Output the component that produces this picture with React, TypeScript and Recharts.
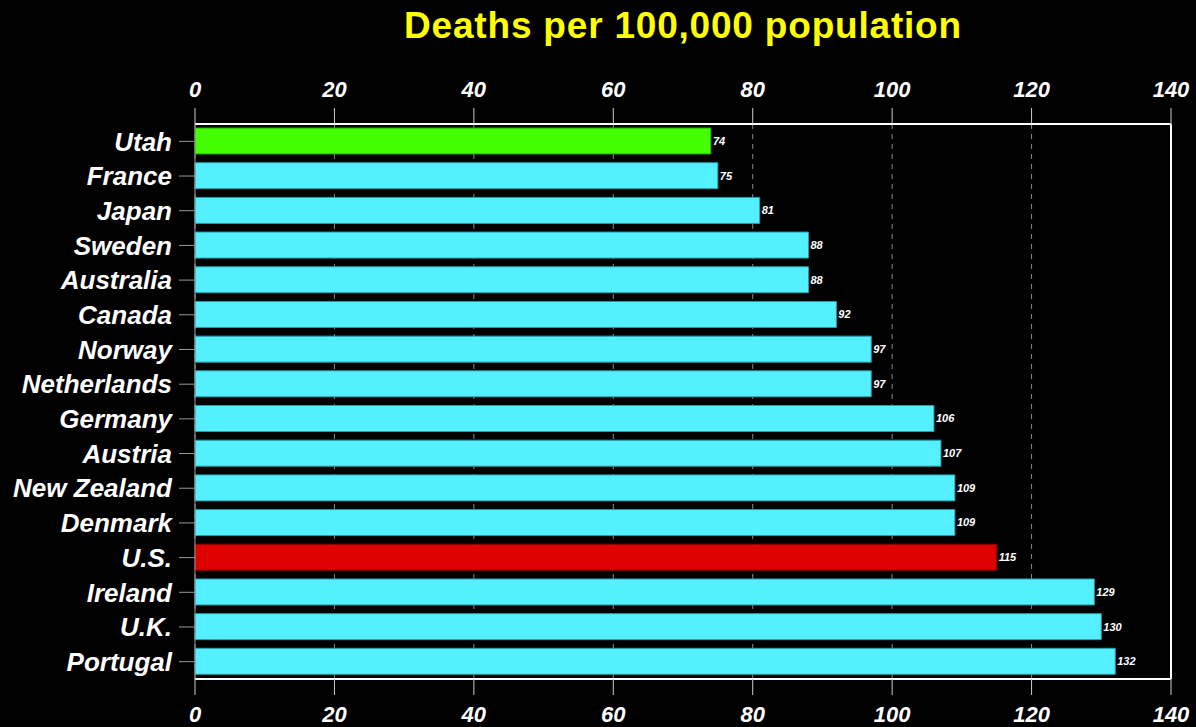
import { BarChart, Bar, XAxis, YAxis, CartesianGrid, Cell, LabelList, ReferenceLine } from 'recharts'

const countries = [
  'Utah', 'France', 'Japan', 'Sweden', 'Australia', 'Canada', 'Norway', 'Netherlands',
  'Germany', 'Austria', 'New Zealand', 'Denmark', 'U.S.', 'Ireland', 'U.K.', 'Portugal',
]
const deaths = [74, 75, 81, 88, 88, 92, 97, 97, 106, 107, 109, 109, 115, 129, 130, 132]
const axisTicks = [0, 20, 40, 60, 80, 100, 120, 140]

const highlight: Record<string, { fill: string; stroke: string }> = {
  Utah: { fill: '#44FF00', stroke: '#2E9A10' },
  'U.S.': { fill: '#DD0000', stroke: '#8A0000' },
}
const defaultBar = { fill: '#55F0FF', stroke: '#2B9CA8' }

const FONT = '"Liberation Sans", Arial, Helvetica, sans-serif'

const rows = countries.map((name, i) => ({ name, deaths: deaths[i] }))

const axisTickStyle = { fill: '#fff', fontSize: 22, fontWeight: 700, fontStyle: 'italic', fontFamily: FONT }

export default function App() {
  return (
    <div style={{ position: 'fixed', inset: 0, background: '#000', overflow: 'hidden' }}>
      <div
        style={{
          position: 'absolute',
          left: 683,
          top: 5,
          transform: 'translateX(-50%)',
          whiteSpace: 'nowrap',
          color: '#FFFF00',
          fontFamily: FONT,
          fontWeight: 700,
          fontSize: 37,
          letterSpacing: 0.8,
        }}
      >
        Deaths per 100,000 population
      </div>
      <BarChart
        width={1196}
        height={727}
        data={rows}
        layout="vertical"
        margin={{ top: 0, right: 25, bottom: 0, left: 0 }}
        barSize={26}
      >
        <CartesianGrid xAxisId="top" horizontal={false} stroke="#8a8a8a" strokeDasharray="5 5" verticalValues={axisTicks} />
        <XAxis
          xAxisId="top"
          orientation="top"
          type="number"
          domain={[0, 140]}
          ticks={axisTicks}
          height={124}
          tickSize={16}
          tickMargin={11}
          tick={axisTickStyle}
          tickLine={{ stroke: '#cccccc' }}
          axisLine={{ stroke: '#ffffff', strokeWidth: 2 }}
          interval={0}
        />
        <XAxis
          xAxisId="bottom"
          orientation="bottom"
          type="number"
          domain={[0, 140]}
          ticks={axisTicks}
          height={48}
          tickSize={16}
          tickMargin={11}
          tick={axisTickStyle}
          tickLine={{ stroke: '#cccccc' }}
          axisLine={{ stroke: '#ffffff', strokeWidth: 2 }}
          interval={0}
          allowDataOverflow
        />
        <YAxis
          type="category"
          dataKey="name"
          width={195}
          tickSize={16}
          tickMargin={7}
          tick={{ fill: '#fff', fontSize: 26, fontWeight: 700, fontStyle: 'italic', fontFamily: FONT }}
          tickLine={{ stroke: '#999999' }}
          axisLine={{ stroke: '#999999' }}
          interval={0}
        />
        <ReferenceLine xAxisId="top" x={140} stroke="#ffffff" strokeWidth={2} />
        <Bar xAxisId="top" dataKey="deaths" isAnimationActive={false} strokeWidth={1}>
          {rows.map((r) => {
            const c = highlight[r.name] ?? defaultBar
            return <Cell key={r.name} fill={c.fill} stroke={c.stroke} />
          })}
          <LabelList
            dataKey="deaths"
            position="right"
            offset={2}
            fill="#ffffff"
            style={{ fontSize: 11, fontWeight: 700, fontStyle: 'italic', fontFamily: FONT }}
          />
        </Bar>
      </BarChart>
    </div>
  )
}
